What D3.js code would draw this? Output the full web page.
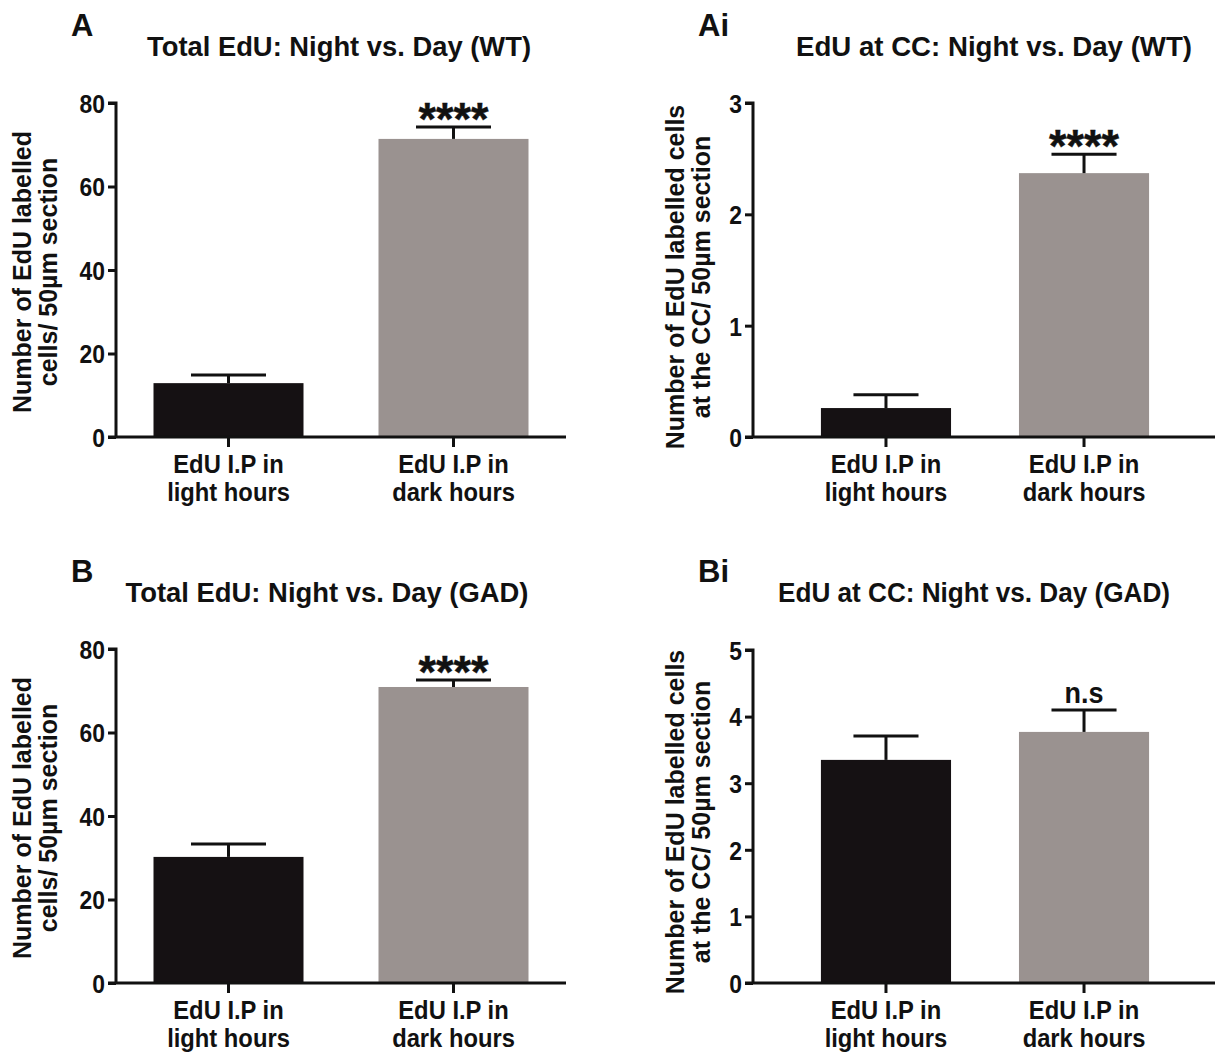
<!DOCTYPE html>
<html>
<head>
<meta charset="utf-8">
<script src="https://cdn.jsdelivr.net/npm/d3@7"></script>
<style>
  html, body { margin: 0; padding: 0; background: #ffffff; }
  svg { display: block; }
  svg text { font-family: "Liberation Sans", Arial, Helvetica, sans-serif; font-weight: bold; }
</style>
</head>
<body>
<svg id="chart" width="1215" height="1055"></svg>
<script>
// ---------- data ----------
const categoryLine1 = ["EdU I.P in", "EdU I.P in"];
const categoryLine2 = ["light hours", "dark hours"];
const panelLetters = ["A", "Ai", "B", "Bi"];
const panelTitles = [
  "Total EdU: Night vs. Day (WT)",
  "EdU at CC: Night vs. Day (WT)",
  "Total EdU: Night vs. Day (GAD)",
  "EdU at CC: Night vs. Day (GAD)"
];
const yTitleLine1 = ["Number of EdU labelled", "Number of EdU labelled cells", "Number of EdU labelled", "Number of EdU labelled cells"];
const yTitleLine2 = ["cells/ 50\u00b5m section", "at the CC/ 50\u00b5m section", "cells/ 50\u00b5m section", "at the CC/ 50\u00b5m section"];
const meansA  = [12.9, 71.4];
const semA    = [1.95, 2.85];
const meansAi = [0.26, 2.37];
const semAi   = [0.12, 0.17];
const meansB  = [30.2, 70.9];
const semB    = [3.1, 1.7];
const meansBi = [3.35, 3.77];
const semBi   = [0.36, 0.33];
const yTicksA  = [0, 20, 40, 60, 80];
const yTicksAi = [0, 1, 2, 3];
const yTicksB  = [0, 20, 40, 60, 80];
const yTicksBi = [0, 1, 2, 3, 4, 5];
const significance = ["****", "****", "****", "n.s"];

const barColors = ["#151113", "#9a9290"];

// ---------- layout ----------
const panels = [
  { means: meansA,  sem: semA,  ticks: yTicksA,  x0: 116, x1: 566,  yTop: 103, yBot: 437, pi: 1/3, po: 1/6,
    letterX: 71, letterY: 36, titleCx: 339, titleY: 56, titleLen: 384, yt1x: 22, yt2x: 48, ytCy: 272, xlabY: 473 },
  { means: meansAi, sem: semAi, ticks: yTicksAi, x0: 753, x1: 1217, yTop: 103, yBot: 437, pi: 0.343, po: 0.343,
    letterX: 698, letterY: 36, titleCx: 994, titleY: 56, titleLen: 396, yt1x: 675, yt2x: 701, ytCy: 277, xlabY: 473 },
  { means: meansB,  sem: semB,  ticks: yTicksB,  x0: 116, x1: 566,  yTop: 649, yBot: 983, pi: 1/3, po: 1/6,
    letterX: 71, letterY: 582, titleCx: 327, titleY: 602, titleLen: 403, yt1x: 22, yt2x: 48, ytCy: 818, xlabY: 1019 },
  { means: meansBi, sem: semBi, ticks: yTicksBi, x0: 753, x1: 1217, yTop: 650, yBot: 983, pi: 0.343, po: 0.343,
    letterX: 698, letterY: 582, titleCx: 974, titleY: 602, titleLen: 392, yt1x: 675, yt2x: 701, ytCy: 822, xlabY: 1019 }
];

const svg = d3.select("#chart");
const ink = "#111111";

function squeezeText(sel, factor) {
  sel.each(function () {
    const w = this.getComputedTextLength();
    d3.select(this).attr("textLength", w * factor).attr("lengthAdjust", "spacingAndGlyphs");
  });
}

panels.forEach((p, i) => {
  const g = svg.append("g");
  const x = d3.scaleBand().domain([0, 1]).range([p.x0, p.x1]).paddingInner(p.pi).paddingOuter(p.po);
  const y = d3.scaleLinear().domain([0, d3.max(p.ticks)]).range([p.yBot, p.yTop]);

  // panel letter
  g.append("text").attr("x", p.letterX).attr("y", p.letterY)
    .attr("font-size", 31).attr("fill", ink).text(panelLetters[i]);

  // title
  g.append("text").attr("x", p.titleCx).attr("y", p.titleY)
    .attr("text-anchor", "middle").attr("font-size", 28).attr("fill", ink)
    .attr("textLength", p.titleLen).attr("lengthAdjust", "spacingAndGlyphs")
    .text(panelTitles[i]);

  // bars
  g.selectAll("rect.bar").data(p.means).join("rect").attr("class", "bar")
    .attr("x", (d, j) => x(j)).attr("width", x.bandwidth())
    .attr("y", d => y(d)).attr("height", d => p.yBot - y(d))
    .attr("fill", (d, j) => barColors[j]);

  // error bars (upper only)
  const capW = x.bandwidth() * 0.5;
  p.means.forEach((m, j) => {
    const cx = x(j) + x.bandwidth() / 2;
    const top = y(m + p.sem[j]);
    g.append("line").attr("x1", cx).attr("x2", cx).attr("y1", y(m)).attr("y2", top)
      .attr("stroke", ink).attr("stroke-width", 3);
    g.append("line").attr("x1", cx - capW / 2).attr("x2", cx + capW / 2).attr("y1", top).attr("y2", top)
      .attr("stroke", ink).attr("stroke-width", 3);
  });

  // significance
  const cx2 = x(1) + x.bandwidth() / 2;
  const capTop = y(p.means[1] + p.sem[1]);
  if (significance[i] === "n.s") {
    g.append("text").attr("x", cx2).attr("y", capTop - 7)
      .attr("text-anchor", "middle").attr("font-size", 30).attr("fill", ink)
      .attr("textLength", 39).attr("lengthAdjust", "spacingAndGlyphs").text(significance[i]);
  } else {
    g.append("text").attr("x", cx2).attr("y", capTop + 8)
      .attr("text-anchor", "middle").attr("font-size", 46).attr("font-weight", "normal")
      .attr("fill", ink).attr("stroke", ink).attr("stroke-width", 0.4)
      .attr("textLength", 70).attr("lengthAdjust", "spacingAndGlyphs")
      .text(significance[i]);
  }

  // y axis
  const yAxis = d3.axisLeft(y).tickValues(p.ticks).tickSize(8).tickPadding(3).tickFormat(d3.format("d"));
  const ya = g.append("g").attr("transform", `translate(${p.x0},0)`).call(yAxis);
  ya.attr("font-family", null);
  ya.select(".domain").attr("stroke", ink).attr("stroke-width", 3).attr("d", `M-8,${p.yTop}H0V${p.yBot}`);
  ya.selectAll(".tick line").attr("stroke", ink).attr("stroke-width", 3);
  const tickTexts = ya.selectAll(".tick text").attr("font-size", 26).attr("fill", ink).attr("dy", "0.36em");
  squeezeText(tickTexts, 0.88);

  // x axis
  const xAxis = d3.axisBottom(x).tickSize(10).tickFormat(() => "");
  const xa = g.append("g").attr("transform", `translate(0,${p.yBot})`).call(xAxis);
  xa.select(".domain").attr("stroke", ink).attr("stroke-width", 3).attr("d", `M${p.x0 - 8},0H${p.x1}`);
  xa.selectAll(".tick line").attr("stroke", ink).attr("stroke-width", 3);

  // x labels
  [0, 1].forEach(j => {
    const cx = x(j) + x.bandwidth() / 2;
    const l1 = g.append("text").attr("text-anchor", "middle").attr("font-size", 25).attr("fill", ink)
      .attr("x", cx).attr("y", p.xlabY).text(categoryLine1[j]);
    const l2 = g.append("text").attr("text-anchor", "middle").attr("font-size", 25).attr("fill", ink)
      .attr("x", cx).attr("y", p.xlabY + 28).text(categoryLine2[j]);
    squeezeText(l1, 0.95);
    squeezeText(l2, 0.95);
  });

  // y title
  const yt = g.append("g").attr("transform", `translate(${p.yt1x},${p.ytCy}) rotate(-90)`);
  yt.append("text").attr("text-anchor", "middle").attr("font-size", 25).attr("fill", ink)
    .attr("x", 0).attr("y", 9).text(yTitleLine1[i]);
  yt.append("text").attr("text-anchor", "middle").attr("font-size", 25).attr("fill", ink)
    .attr("x", 0).attr("y", 9 + (p.yt2x - p.yt1x)).text(yTitleLine2[i]);
});
</script>
</body>
</html>
